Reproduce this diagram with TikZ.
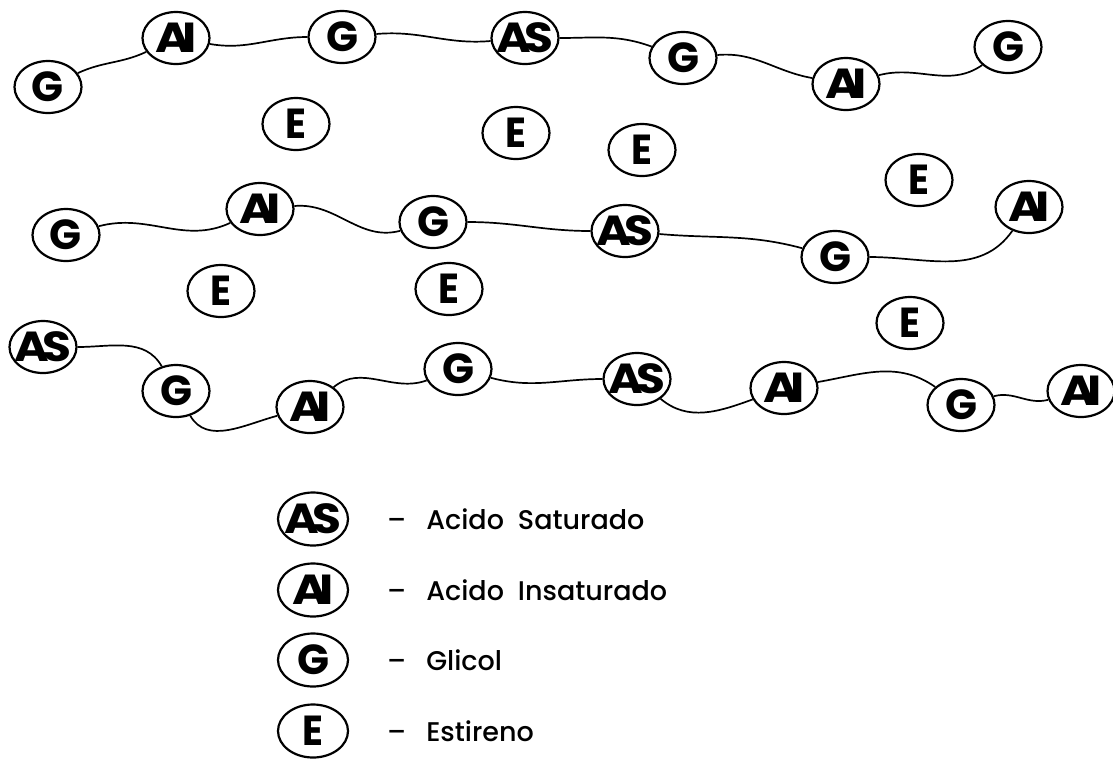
\documentclass[tikz,border=0pt]{standalone}
\usepackage{graphicx}
\usepackage{fontspec}
\setmainfont{Poppins}
\newfontfamily\legfont{Poppins Medium}
\usetikzlibrary{shapes.geometric}
\newcommand{\wideletter}[2][1]{\makebox[0pt][c]{\scalebox{#1}[1]{#2}}}
\newcommand{\AIt}{\wideletter[1.15]{A\kern-7pt I}}
\newcommand{\ASt}{\wideletter[1.12]{A\kern-6pt S}}
\newcommand{\Gt}{\wideletter{G}}
\newcommand{\Et}{\wideletter[0.92]{E}}
\begin{document}
\begin{tikzpicture}[x=1pt,y=-1pt,
  mol/.style={draw, ellipse, line width=2.2pt, minimum width=67pt, minimum height=52pt, inner sep=0pt,
    font=\fontsize{42}{42}\selectfont\bfseries},
  leg/.style={mol, minimum width=70pt, minimum height=53pt},
  bond/.style={line width=1.7pt},
  lbl/.style={anchor=west, inner sep=0pt, font=\legfont\fontsize{27}{32}\selectfont}]
\useasboundingbox (0,0) rectangle (1113,761);
% row 1
\node[mol] (g1) at (48,87) {\Gt};
\node[mol] (ai1) at (176,38) {\AIt};
\node[mol] (g2) at (342,37) {\Gt};
\node[mol] (as1) at (525,38) {\ASt};
\node[mol] (g3) at (683,58) {\Gt};
\node[mol] (ai2) at (846,84) {\AIt};
\node[mol] (g4) at (1008,47) {\Gt};
% free E (upper)
\node[mol] (e1) at (296,124) {\Et};
\node[mol] (e2) at (516,133) {\Et};
\node[mol] (e3) at (642,150) {\Et};
\node[mol] (e4) at (919,180) {\Et};
% row 2
\node[mol] (g5) at (66,235) {\Gt};
\node[mol] (ai3) at (260,209) {\AIt};
\node[mol] (g6) at (433,222) {\Gt};
\node[mol] (as2) at (625,231) {\ASt};
\node[mol] (g7) at (835,257) {\Gt};
\node[mol] (ai4) at (1029,207) {\AIt};
% free E (lower)
\node[mol] (e5) at (221,291) {\Et};
\node[mol] (e6) at (449,289) {\Et};
\node[mol] (e7) at (910,323) {\Et};
% row 3
\node[mol] (as3) at (43,347) {\ASt};
\node[mol] (g8) at (176,391) {\Gt};
\node[mol] (ai5) at (310,407) {\AIt};
\node[mol] (g9) at (458,369) {\Gt};
\node[mol] (as4) at (637,379) {\ASt};
\node[mol] (ai6) at (784,388) {\AIt};
\node[mol] (g10) at (961,405) {\Gt};
\node[mol] (ai7) at (1081,391) {\AIt};
% bonds row 1
\draw[bond] (g1) to[out=25,in=205] (ai1);
\draw[bond] (ai1) to[out=-10,in=180] (g2);
\draw[bond] (g2) to[out=5,in=185] (as1);
\draw[bond] (as1) to[out=0,in=160] (g3);
\draw[bond] (g3) to[out=5,in=170] (ai2);
\draw[bond] (ai2) to[out=15,in=215] (g4);
% bonds row 2
\draw[bond] (g5) to[out=15,in=205] (ai3);
\draw[bond] (ai3) to[out=5,in=195] (g6);
\draw[bond] (g6) to[out=0,in=180] (as2);
\draw[bond] (as2) to[out=-5,in=165] (g7);
\draw[bond] (g7) to[out=0,in=235] (ai4);
% bonds row 3
\draw[bond] (as3) to[out=0,in=120] (g8);
\draw[bond] (g8) to[out=-60,in=195] (ai5);
\draw[bond] (ai5) to[out=40,in=200] (g9);
\draw[bond] (g9) to[out=-15,in=180] (as4);
\draw[bond] (as4) to[out=-40,in=200] (ai6);
\draw[bond] (ai6) to[out=10,in=145] (g10);
\draw[bond] (g10) to[out=15,in=195] (ai7);
% legend
\node[leg] (kas) at (313,519) {\ASt};
\node[leg] (kai) at (313,590) {\AIt};
\node[leg] (kg) at (313,660) {\Gt};
\node[leg] (ke) at (313,731) {\Et};
\node[lbl] (tas) at (387,519) {–\hspace{20pt}Acido\hspace{14pt}Saturado};
\node[lbl] (tai) at (387,590) {–\hspace{20pt}Acido\hspace{14pt}Insaturado};
\node[lbl] (tg) at (387,660) {–\hspace{20pt}Glicol};
\node[lbl] (te) at (387,731) {–\hspace{20pt}Estireno};
\end{tikzpicture}
\end{document}
